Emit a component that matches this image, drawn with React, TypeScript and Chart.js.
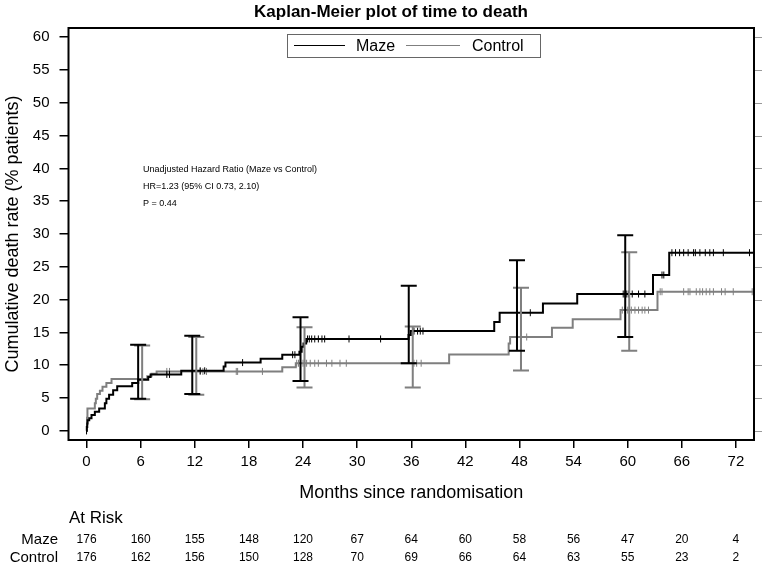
import React, { useEffect, useRef } from 'react';
import { Chart, registerables } from 'chart.js';

Chart.register(...registerables);

const FONT = "'Liberation Sans', Arial, Helvetica, sans-serif";
const BLACK = '#000000';
const GRAY = '#7f7f7f';

// Tick labels (months) and at-risk counts
const tickMonths = [0, 6, 12, 18, 24, 30, 36, 42, 48, 54, 60, 66, 72];
const yTicks = [0, 5, 10, 15, 20, 25, 30, 35, 40, 45, 50, 55, 60];
const atRiskMaze = [176, 160, 155, 148, 120, 67, 64, 60, 58, 56, 47, 20, 4];
const atRiskControl = [176, 162, 156, 150, 128, 70, 69, 66, 64, 63, 55, 23, 2];

// Kaplan-Meier step curves (time of event, cumulative death rate after event)
const mazeTimes = [0, 0.03, 0.08, 0.12, 0.3, 0.55, 0.92, 1.4, 2.03, 2.2, 2.5, 2.95, 3.4, 5.06, 5.73, 6.84, 7.1, 10.5, 15.2, 15.4, 19.3, 21.7, 23.6, 23.85, 24.05, 24.35, 35.7, 35.95, 45.2, 45.8, 50.6, 54.4, 62.8, 64.6, 74];
const mazeRates = [0, 0.6, 1.1, 1.6, 1.9, 2.4, 2.9, 3.4, 4.2, 4.9, 5.5, 6.2, 6.8, 7.3, 7.8, 8.2, 8.6, 9.15, 9.8, 10.4, 11.0, 11.6, 12.05, 12.8, 13.3, 14.0, 14.6, 15.2, 16.6, 18.0, 19.4, 20.85, 23.75, 27.15, 27.15];

const controlTimes = [0, 0.05, 0.1, 0.92, 1.03, 1.18, 1.48, 1.77, 2.2, 2.77, 6.73, 7.2, 7.77, 21.7, 23.2, 40.2, 46.8, 46.96, 51.6, 53.9, 59.2, 63.3, 74];
const controlRates = [0, 2.0, 3.4, 4.2, 4.9, 5.6, 6.1, 6.7, 7.3, 7.9, 8.3, 8.7, 9.05, 9.7, 10.3, 11.65, 13.3, 14.3, 15.7, 17.0, 18.4, 21.2, 21.2];

// Censoring times
const mazeCensor = [0, 8.9, 9.2, 12.6, 13.1, 17.3, 22.85, 23.1, 24.5, 24.7, 24.96, 25.3, 25.7, 26.1, 26.4, 29.1, 32.6, 36.3, 36.7, 37.0, 37.3, 49.2, 59.5, 59.7, 59.9, 60.1, 60.5, 61.2, 61.9, 63.8, 64.0, 64.9, 65.3, 65.75, 66.2, 66.7, 67.3, 67.5, 68.0, 68.6, 69.1, 69.5, 70.6, 73.5];
const controlCensor = [0, 8.9, 9.2, 12.6, 12.9, 13.3, 16.6, 16.75, 19.5, 23.3, 23.5, 24.0, 24.2, 24.4, 24.8, 25.3, 25.7, 26.6, 27.2, 28.1, 28.8, 36.3, 36.6, 37.1, 48.8, 59.4, 59.7, 60.0, 60.4, 60.8, 61.2, 61.6, 61.9, 62.3, 63.6, 63.8, 66.2, 66.7, 66.9, 67.6, 68.0, 68.3, 68.7, 69.1, 69.5, 70.4, 70.8, 71.7, 73.8];

// 95% CI error bars
const ciMonths = [6, 12, 24, 36, 48, 60];
const mazeLower = [4.9, 5.6, 7.6, 10.3, 12.2, 14.3];
const mazeUpper = [13.1, 14.5, 17.3, 22.1, 26.0, 29.8];
const controlLower = [4.8, 5.5, 6.6, 6.6, 9.2, 12.2];
const controlUpper = [13.0, 14.3, 15.8, 15.9, 21.8, 27.2];

const annotationLines = [
  'Unadjusted Hazard Ratio (Maze vs Control)',
  'HR=1.23 (95% CI 0.73, 2.10)',
  'P = 0.44',
];

function stepValue(times: number[], rates: number[], t: number) {
  let v = rates[0];
  for (let i = 0; i < times.length; i++) {
    if (times[i] <= t) v = rates[i];
    else break;
  }
  return v;
}

const kmPlugin = {
  id: 'kmExtras',
  afterDatasetsDraw(chart: any) {
    const { ctx, scales } = chart;
    const xs = scales.x;
    const ys = scales.y;
    const drawBars = (lo: number[], hi: number[], color: string, off: number) => {
      ctx.save();
      ctx.strokeStyle = color;
      ctx.lineWidth = 2;
      ciMonths.forEach((t, i) => {
        const x = xs.getPixelForValue(t) + off;
        const y1 = ys.getPixelForValue(lo[i]);
        const y2 = ys.getPixelForValue(hi[i]);
        ctx.beginPath();
        ctx.moveTo(x, y1);
        ctx.lineTo(x, y2);
        ctx.moveTo(x - 8, y1);
        ctx.lineTo(x + 8, y1);
        ctx.moveTo(x - 8, y2);
        ctx.lineTo(x + 8, y2);
        ctx.stroke();
      });
      ctx.restore();
    };
    drawBars(controlLower, controlUpper, GRAY, 1.5);
    drawBars(mazeLower, mazeUpper, BLACK, -2.5);
  },
  afterDraw(chart: any) {
    const { ctx, chartArea, scales } = chart;
    const xs = scales.x;
    const ys = scales.y;
    const { left, right, top, bottom } = chartArea;
    const cx = (left + right) / 2;
    ctx.save();
    // frame
    ctx.strokeStyle = BLACK;
    ctx.lineWidth = 2;
    ctx.strokeRect(left, top, right - left, bottom - top);
    // right-side ticks
    ctx.strokeStyle = '#999999';
    ctx.lineWidth = 1;
    yTicks.forEach((v) => {
      const y = Math.round(ys.getPixelForValue(v)) + 0.5;
      ctx.beginPath();
      ctx.moveTo(right + 1, y);
      ctx.lineTo(right + 8, y);
      ctx.stroke();
    });

    ctx.fillStyle = BLACK;
    // title
    ctx.font = `bold 17px ${FONT}`;
    ctx.textAlign = 'center';
    ctx.textBaseline = 'middle';
    ctx.fillText('Kaplan-Meier plot of time to death', 391, 12);

    // legend box
    const lgL = 287, lgR = 540, lgT = 34, lgB = 57;
    const lgY = (lgT + lgB) / 2;
    ctx.strokeStyle = '#666666';
    ctx.lineWidth = 1;
    ctx.fillStyle = '#ffffff';
    ctx.fillRect(lgL, lgT, lgR - lgL, lgB - lgT);
    ctx.strokeRect(lgL + 0.5, lgT + 0.5, lgR - lgL, lgB - lgT);
    ctx.lineWidth = 1.2;
    ctx.strokeStyle = BLACK;
    ctx.beginPath();
    ctx.moveTo(294, lgY);
    ctx.lineTo(345, lgY);
    ctx.stroke();
    ctx.strokeStyle = GRAY;
    ctx.beginPath();
    ctx.moveTo(406, lgY);
    ctx.lineTo(460, lgY);
    ctx.stroke();
    ctx.fillStyle = BLACK;
    ctx.font = `16px ${FONT}`;
    ctx.textAlign = 'left';
    ctx.fillText('Maze', 356, lgY + 1);
    ctx.fillText('Control', 472, lgY + 1);

    // annotation
    ctx.font = `9px ${FONT}`;
    annotationLines.forEach((s, i) => ctx.fillText(s, 143, 170 + i * 16.7));

    // y axis title
    ctx.save();
    ctx.translate(13, (top + bottom) / 2);
    ctx.rotate(-Math.PI / 2);
    ctx.font = `18px ${FONT}`;
    ctx.textAlign = 'center';
    ctx.fillText('Cumulative death rate (% patients)', 0, 0);
    ctx.restore();

    // x axis title
    ctx.font = `18px ${FONT}`;
    ctx.textAlign = 'center';
    ctx.fillText('Months since randomisation', cx, 493);

    // at risk table
    ctx.font = `17px ${FONT}`;
    ctx.textAlign = 'left';
    ctx.fillText('At Risk', 69, 518);
    ctx.font = `15px ${FONT}`;
    ctx.textAlign = 'right';
    ctx.fillText('Maze', 58, 540);
    ctx.fillText('Control', 58, 558);
    ctx.font = `12px ${FONT}`;
    ctx.textAlign = 'center';
    tickMonths.forEach((m, i) => {
      const x = xs.getPixelForValue(m);
      ctx.fillText(String(atRiskMaze[i]), x, 540);
      ctx.fillText(String(atRiskControl[i]), x, 558);
    });
    ctx.restore();
  },
};

export default function App() {
  const canvasRef = useRef<HTMLCanvasElement | null>(null);

  useEffect(() => {
    if (!canvasRef.current) return;
    const mazeLine = mazeTimes.map((t, i) => ({ x: t, y: mazeRates[i] }));
    const controlLine = controlTimes.map((t, i) => ({ x: t, y: controlRates[i] }));
    const mazeC = mazeCensor.map((t) => ({ x: t, y: stepValue(mazeTimes, mazeRates, t) }));
    const controlC = controlCensor.map((t) => ({ x: t, y: stepValue(controlTimes, controlRates, t) }));

    const chart = new Chart(canvasRef.current, {
      type: 'line',
      data: {
        datasets: [
          {
            label: 'Maze',
            data: mazeLine,
            borderColor: BLACK,
            borderWidth: 2,
            stepped: 'before',
            pointRadius: 0,
            fill: false,
          },
          {
            label: 'Maze censored',
            data: mazeC,
            showLine: false,
            pointStyle: 'line',
            rotation: 90,
            pointRadius: 3.5,
            borderColor: BLACK,
            borderWidth: 1,
          },
          {
            label: 'Control',
            data: controlLine,
            borderColor: GRAY,
            borderWidth: 2,
            stepped: 'before',
            pointRadius: 0,
            fill: false,
          },
          {
            label: 'Control censored',
            data: controlC,
            showLine: false,
            pointStyle: 'line',
            rotation: 90,
            pointRadius: 3.5,
            borderColor: GRAY,
            borderWidth: 1,
          },
        ],
      },
      options: {
        responsive: false,
        animation: false,
        layout: { padding: { left: 0, right: 10, top: 28, bottom: 0 } },
        plugins: {
          legend: { display: false },
          title: { display: false },
          tooltip: { enabled: false },
        },
        scales: {
          x: {
            type: 'linear',
            min: -2,
            max: 74,
            afterBuildTicks: (scale: any) => {
              scale.ticks = tickMonths.map((v) => ({ value: v }));
            },
            afterFit: (scale: any) => {
              scale.height = 127;
            },
            border: { display: false },
            grid: { drawOnChartArea: false, drawTicks: true, tickLength: 8, color: BLACK, lineWidth: 1.5 },
            ticks: { font: { family: FONT, size: 15 }, color: BLACK, padding: 5, autoSkip: false, maxRotation: 0 },
          },
          y: {
            type: 'linear',
            min: -1.4,
            max: 61.4,
            afterBuildTicks: (scale: any) => {
              scale.ticks = yTicks.map((v) => ({ value: v }));
            },
            afterFit: (scale: any) => {
              scale.width = 68.5;
            },
            border: { display: false },
            grid: { drawOnChartArea: false, drawTicks: true, tickLength: 9, color: BLACK, lineWidth: 1.5 },
            ticks: { font: { family: FONT, size: 15 }, color: BLACK, padding: 10 },
          },
        },
      },
      plugins: [kmPlugin],
    });
    return () => chart.destroy();
  }, []);

  return (
    <div style={{ position: 'absolute', left: 0, top: 0, width: 764, height: 567, background: '#fff' }}>
      <canvas ref={canvasRef} width={764} height={567} style={{ display: 'block' }} />
    </div>
  );
}
